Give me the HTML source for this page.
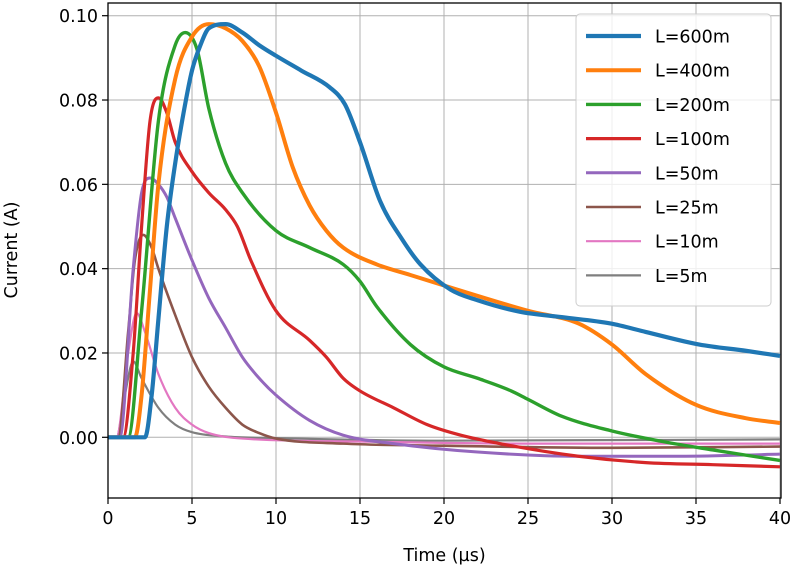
<!DOCTYPE html>
<html><head><meta charset="utf-8"><style>
html,body{margin:0;padding:0;background:#fff;}
svg{display:block;font-family:"DejaVu Sans","Liberation Sans",sans-serif;}
</style></head><body>
<svg id="chart" width="797" height="575"></svg>
<script>
const seriesLabels=["L=600m","L=400m","L=200m","L=100m","L=50m","L=25m","L=10m","L=5m"];
const seriesColors=["#1f77b4","#ff7f0e","#2ca02c","#d62728","#9467bd","#8c564b","#e377c2","#7f7f7f"];
const seriesWidths=[4.2,4,3.4,3.2,3,2.6,2.2,2.2];
const t600=[0,2.2,2.6,3,3.5,4,4.5,5,5.5,6,7,8,9,10,11.5,13.2,14.1,15,16.2,17.5,18.6,20.4,22,24.5,27,29.9,32,35.2,38,40];
const v600=[0,0,0.01,0.028,0.05,0.065,0.077,0.087,0.093,0.097,0.098,0.096,0.093,0.0905,0.087,0.083,0.079,0.07,0.056,0.047,0.041,0.035,0.0325,0.0298,0.0285,0.027,0.025,0.022,0.0205,0.0193];
const t400=[0,1.6,2,2.5,3,4,5,6,7,8,9,10,11,12,13,14,16,18,20,25,28,30,32,35,38,40];
const v400=[0,0,0.01,0.035,0.06,0.085,0.095,0.098,0.097,0.094,0.088,0.077,0.064,0.055,0.049,0.045,0.041,0.0385,0.036,0.030,0.027,0.022,0.015,0.0077,0.0045,0.0034];
const t200=[0,1.2,2,3,4,4.6,5.3,6,7,8,10,12,14,15,16,18,20,22,24,25,27,30,33,36,40];
const v200=[0,0,0.03,0.075,0.093,0.096,0.092,0.078,0.065,0.058,0.049,0.045,0.041,0.037,0.031,0.022,0.0167,0.014,0.011,0.009,0.005,0.0015,-0.001,-0.003,-0.0055];
const t100=[0,0.9,1.5,2,2.5,3,3.5,4,5,6,7,7.7,8.5,10,12,13,14,15,17,19,21,24,28,32,36,40];
const v100=[0,0,0.02,0.05,0.075,0.0805,0.077,0.07,0.063,0.058,0.054,0.05,0.042,0.03,0.023,0.019,0.014,0.011,0.007,0.003,0.0005,-0.002,-0.0045,-0.006,-0.0065,-0.007];
const t50=[0,0.7,1.5,2,2.5,3,3.5,4,5,6,7,8,9,10,12,14,17,22,28,34,40];
const v50=[0,0,0.04,0.058,0.0615,0.06,0.057,0.052,0.042,0.033,0.026,0.019,0.014,0.01,0.004,0.0005,-0.0015,-0.0035,-0.0045,-0.0045,-0.004];
const t25=[0,0.6,1.2,1.6,2.1,2.6,3,4,5,6,7,8,9,10,14,20,30,40];
const v25=[0,0,0.025,0.042,0.048,0.045,0.04,0.029,0.019,0.012,0.007,0.003,0.001,-0.0003,-0.0015,-0.002,-0.0025,-0.0022];
const t10=[0,0.5,1.2,1.7,2.2,3,4,5,6,8,15,25,40];
const v10=[0,0,0.02,0.0295,0.025,0.015,0.007,0.003,0.001,-0.0003,-0.001,-0.0015,-0.0015];
const t5=[0,0.5,1,1.5,2,3,4,5,7,10,20,40];
const v5=[0,0,0.01,0.018,0.014,0.007,0.003,0.0012,0.0002,-0.0002,-0.0008,-0.0005];
const seriesT=[t600,t400,t200,t100,t50,t25,t10,t5];
const seriesV=[v600,v400,v200,v100,v50,v25,v10,v5];
const xTicks=[0,5,10,15,20,25,30,35,40];
const yTicks=[0,0.02,0.04,0.06,0.08,0.10];
const yTickLabels=["0.00","0.02","0.04","0.06","0.08","0.10"];

const NS="http://www.w3.org/2000/svg";
const svg=document.getElementById('chart');
const L=108,R=781,T=3,B=498;
const xs=t=>L+t*(780-L)/40;
const ys=v=>437.3-v*(437.3-15.7)/0.10;
function mk(tag,attrs,parent){const e=document.createElementNS(NS,tag);for(const k in attrs)e.setAttribute(k,attrs[k]);(parent||svg).appendChild(e);return e;}

const clip=mk('clipPath',{id:'pc'});mk('rect',{x:L,y:T,width:R-L,height:B-T},clip);
xTicks.forEach(t=>{const g=mk('line',{x1:xs(t),x2:xs(t),y1:T,y2:B,stroke:'#b0b0b0','stroke-width':1});

});
yTicks.forEach(v=>{const g=mk('line',{x1:L,x2:R,y1:ys(v),y2:ys(v),stroke:'#b0b0b0','stroke-width':1});

});

function path(T_,V_){
 const n=T_.length,px=T_.map(xs),py=V_.map(ys);
 const d=[],m=[];
 for(let i=0;i<n-1;i++)d.push((py[i+1]-py[i])/(px[i+1]-px[i]));
 m[0]=d[0];m[n-1]=d[n-2];
 for(let i=1;i<n-1;i++){m[i]=(d[i-1]*d[i]<=0)?0:(d[i-1]+d[i])/2;}
 for(let i=0;i<n-1;i++){if(d[i]===0){m[i]=0;m[i+1]=0;continue;}const a=m[i]/d[i],b=m[i+1]/d[i],s=a*a+b*b;if(s>9){const tt=3/Math.sqrt(s);m[i]=tt*a*d[i];m[i+1]=tt*b*d[i];}}
 let p='M'+px[0]+','+py[0];
 for(let i=0;i<n-1;i++){const h=(px[i+1]-px[i])/3;p+='C'+(px[i]+h)+','+(py[i]+m[i]*h)+' '+(px[i+1]-h)+','+(py[i+1]-m[i+1]*h)+' '+px[i+1]+','+py[i+1];}
 return p;}
const g=mk('g',{'clip-path':'url(#pc)'});
for(let s=seriesT.length-1;s>=0;s--){
 const p=mk('path',{d:path(seriesT[s],seriesV[s]),fill:'none',stroke:seriesColors[s],'stroke-width':seriesWidths[s],'stroke-linejoin':'round'},g);
 
 
}
const fr=mk('rect',{x:L,y:T,width:R-L,height:B-T,fill:'none',stroke:'#000','stroke-width':1.3});


xTicks.forEach(t=>{mk('line',{x1:xs(t),x2:xs(t),y1:B,y2:B+6,stroke:'#000','stroke-width':1.2});
 const tx=mk('text',{x:xs(t),y:B+26,'text-anchor':'middle','font-size':17.5,fill:'#000'});tx.textContent=t;
 
 });
yTicks.forEach((v,i)=>{mk('line',{x1:L-6,x2:L,y1:ys(v),y2:ys(v),stroke:'#000','stroke-width':1.2});
 const tx=mk('text',{x:L-10,y:ys(v)+6.5,'text-anchor':'end','font-size':17.5,fill:'#000'});tx.textContent=yTickLabels[i];
 
 });
const xt=mk('text',{x:(L+R)/2,y:561,'text-anchor':'middle','font-size':17.5});xt.textContent='Time (µs)';


const yt=mk('text',{x:17,y:250,'text-anchor':'middle','font-size':17.5,transform:'rotate(-90 17 250)'});yt.textContent='Current (A)';


const lg=mk('g',{});


mk('rect',{x:576,y:14,width:195,height:292,rx:4,fill:'#fff','fill-opacity':0.8,stroke:'#ccc'},lg);
seriesLabels.forEach((lab,i)=>{const y=36+i*34.2;
 const e=mk('g',{},lg);
 
 
 mk('line',{x1:586,x2:641,y1:y,y2:y,stroke:seriesColors[i],'stroke-width':seriesWidths[i]},e);
 const tx=mk('text',{x:655,y:y+6.5,'font-size':17.5},e);tx.textContent=lab;});
</script>
</body></html>
